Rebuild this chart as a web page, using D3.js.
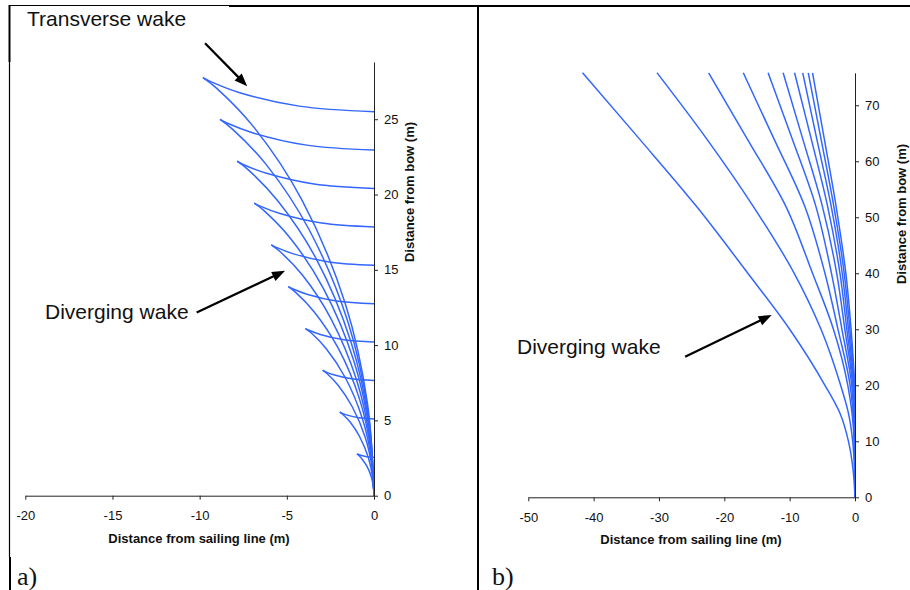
<!DOCTYPE html>
<html>
<head>
<meta charset="utf-8">
<script src="https://cdn.jsdelivr.net/npm/d3@7"></script>
<style>
  html, body { margin: 0; padding: 0; background: #fff; }
  svg { display: block; }
  text { font-family: "Liberation Sans", Arial, Helvetica, sans-serif; fill: #111; }
</style>
</head>
<body>
<svg id="chart" width="910" height="590"></svg>
<script>
// ---------- Panel a: Kelvin wake crests (metres) ----------
const xTicksA = [-20, -15, -10, -5, 0];
const yTicksA = [0, 5, 10, 15, 20, 25];

// transverse branch of each crest: sailing line -> cusp, [lateral, behind bow]
const transverseA = [
  [[0, 2.55], [-0.43, 2.59], [-0.77, 2.68], [-0.93, 2.75], [-0.98, 2.78]],
  [[0, 5.10], [-0.86, 5.17], [-1.54, 5.35], [-1.87, 5.50], [-1.96, 5.55]],
  [[0, 7.65], [-1.29, 7.76], [-2.31, 8.03], [-2.80, 8.24], [-2.94, 8.33]],
  [[0, 10.20], [-1.72, 10.35], [-3.08, 10.71], [-3.73, 10.99], [-3.93, 11.10]],
  [[0, 12.75], [-2.15, 12.93], [-3.85, 13.38], [-4.67, 13.74], [-4.91, 13.88]],
  [[0, 15.30], [-2.58, 15.52], [-4.62, 16.06], [-5.60, 16.49], [-5.89, 16.66]],
  [[0, 17.85], [-3.01, 18.11], [-5.39, 18.74], [-6.53, 19.23], [-6.87, 19.43]],
  [[0, 20.40], [-3.44, 20.70], [-6.16, 21.41], [-7.47, 21.98], [-7.85, 22.21]],
  [[0, 22.95], [-3.86, 23.28], [-6.93, 24.09], [-8.40, 24.73], [-8.83, 24.99]],
  [[0, 25.50], [-4.29, 25.87], [-7.70, 26.76], [-9.33, 27.48], [-9.81, 27.76]]
];

// diverging branch of each crest: cusp -> bow
const divergingA = [
  [[-0.98, 2.78], [-0.90, 2.70], [-0.69, 2.44], [-0.41, 1.96], [-0.16, 1.28], [-0.04, 0.62], [0, 0]],
  [[-1.96, 5.55], [-1.80, 5.41], [-1.37, 4.89], [-0.83, 3.93], [-0.33, 2.55], [-0.08, 1.23], [0, 0]],
  [[-2.94, 8.33], [-2.70, 8.11], [-2.06, 7.33], [-1.24, 5.89], [-0.49, 3.83], [-0.11, 1.85], [0, 0]],
  [[-3.93, 11.10], [-3.61, 10.82], [-2.75, 9.78], [-1.65, 7.85], [-0.66, 5.10], [-0.15, 2.47], [0, 0]],
  [[-4.91, 13.88], [-4.51, 13.52], [-3.44, 12.22], [-2.06, 9.81], [-0.82, 6.38], [-0.19, 3.09], [0, 0]],
  [[-5.89, 16.66], [-5.41, 16.23], [-4.12, 14.67], [-2.48, 11.78], [-0.99, 7.65], [-0.23, 3.70], [0, 0]],
  [[-6.87, 19.43], [-6.31, 18.93], [-4.81, 17.11], [-2.89, 13.74], [-1.15, 8.93], [-0.26, 4.32], [0, 0]],
  [[-7.85, 22.21], [-7.21, 21.64], [-5.50, 19.55], [-3.30, 15.70], [-1.32, 10.21], [-0.30, 4.94], [0, 0]],
  [[-8.83, 24.99], [-8.12, 24.34], [-6.19, 22.00], [-3.72, 17.66], [-1.48, 11.48], [-0.34, 5.55], [0, 0]],
  [[-9.81, 27.76], [-9.02, 27.05], [-6.87, 24.44], [-4.13, 19.63], [-1.65, 12.76], [-0.38, 6.17], [0, 0]]
];

// ---------- Panel b: diverging wake only (metres) ----------
const xTicksB = [-50, -40, -30, -20, -10, 0];
const yTicksB = [0, 10, 20, 30, 40, 50, 60, 70];
const depthsB = [75.8, 64, 52, 40, 30, 20, 15, 10, 5, 0];
// lateral offset of each diverging crest at the depths above
const offsetsB = [
  [-41.7, -33.0, -24.3, -16.4, -10.0, -4.6, -2.3, -1.0, -0.3, 0],
  [-30.3, -22.7, -15.6, -9.3, -5.2, -2.2, -1.0, -0.35, -0.08, 0],
  [-22.4, -16.5, -10.6, -6.5, -3.3, -1.1, -0.45, -0.12, -0.02, 0],
  [-17.1, -12.4, -7.7, -4.6, -2.6, -0.75, -0.3, -0.08, -0.01, 0],
  [-13.3, -9.6, -6.0, -3.6, -2.0, -0.5, -0.2, -0.05, -0.01, 0],
  [-11.0, -8.0, -5.0, -2.8, -1.55, -0.35, -0.14, -0.04, 0, 0],
  [-9.25, -6.7, -4.2, -2.3, -1.25, -0.25, -0.1, -0.03, 0, 0],
  [-8.0, -5.85, -3.65, -1.95, -1.0, -0.18, -0.07, -0.02, 0, 0],
  [-7.15, -5.2, -3.25, -1.65, -0.78, -0.12, -0.05, -0.01, 0, 0],
  [-6.5, -4.7, -2.9, -1.4, -0.6, -0.08, -0.03, -0.01, 0, 0]
];

const axisTitleX = "Distance from sailing line (m)";
const axisTitleY = "Distance from bow (m)";

// ---------- drawing ----------
const svg = d3.select("#chart");
const LINE = "#3366ff";
const AXIS = "#222";

// page frame
const frame = svg.append("g").attr("fill", "none").attr("stroke", "#000");
frame.append("line").attr("x1", 9).attr("x2", 229).attr("y1", 5.5).attr("y2", 5.5).attr("stroke-width", 1);
frame.append("line").attr("x1", 229).attr("x2", 910).attr("y1", 6).attr("y2", 6).attr("stroke-width", 2);
frame.append("line").attr("x1", 9.5).attr("x2", 9.5).attr("y1", 5).attr("y2", 62).attr("stroke-width", 2);
frame.append("line").attr("x1", 9.5).attr("x2", 9.5).attr("y1", 62).attr("y2", 557).attr("stroke-width", 1.2);
frame.append("line").attr("x1", 10).attr("x2", 10).attr("y1", 557).attr("y2", 590).attr("stroke-width", 2);
frame.append("line").attr("x1", 478).attr("x2", 478).attr("y1", 5).attr("y2", 590).attr("stroke-width", 2);

function styleAxis(g) {
  g.select(".domain").attr("stroke", AXIS);
  g.selectAll(".tick line").attr("stroke", AXIS);
  g.selectAll(".tick text").attr("fill", "#1a1a1a").style("font-size", "13px")
    .style("font-family", '"Liberation Sans", Arial, sans-serif');
}

function arrow(g, x1, y1, x2, y2) {
  const dx = x2 - x1, dy = y2 - y1, len = Math.hypot(dx, dy);
  const ux = dx / len, uy = dy / len;
  const headL = 13, headW = 5;
  const bx = x2 - ux * headL, by = y2 - uy * headL;
  g.append("line").attr("x1", x1).attr("y1", y1).attr("x2", bx + ux * 2).attr("y2", by + uy * 2)
    .attr("stroke", "#000").attr("stroke-width", 2.2);
  g.append("path")
    .attr("d", `M${x2},${y2}L${bx - uy * headW},${by + ux * headW}L${bx + uy * headW},${by - ux * headW}Z`)
    .attr("fill", "#000");
}

// ----- panel a -----
const xA = d3.scaleLinear().domain([-20, 0]).range([25.3, 374]);
const yA = d3.scaleLinear().domain([0, 28.8]).range([495.7, 62]);
const gA = svg.append("g");

const lineA = d3.line().x(d => xA(d[0])).y(d => yA(d[1])).curve(d3.curveCatmullRom.alpha(0.5));
gA.append("g").selectAll("path").data(transverseA.concat(divergingA)).join("path")
  .attr("d", lineA).attr("fill", "none").attr("stroke", LINE).attr("stroke-width", 1.5);

gA.append("g").attr("transform", "translate(0,495.7)")
  .call(d3.axisBottom(xA).tickValues(xTicksA).tickFormat(d => String(d)).tickSize(4).tickSizeOuter(0).tickPadding(11))
  .call(styleAxis);
gA.append("g").attr("transform", "translate(374,0)")
  .call(d3.axisRight(yA).tickValues(yTicksA).tickFormat(d => String(d)).tickSize(4).tickSizeOuter(0).tickPadding(6))
  .call(styleAxis);

gA.append("text").attr("x", 199).attr("y", 543).attr("text-anchor", "middle")
  .style("font-size", "13px").style("font-weight", "bold").text(axisTitleX);
gA.append("text").attr("transform", "translate(414,192) rotate(-90)").attr("text-anchor", "middle")
  .style("font-size", "13px").style("font-weight", "bold").text(axisTitleY);

gA.append("text").attr("x", 27).attr("y", 26).style("font-size", "21px").text("Transverse wake");
gA.append("text").attr("x", 45).attr("y", 319).style("font-size", "21px").text("Diverging wake");
arrow(gA, xA(-9.69), yA(30.05), xA(-7.27), yA(27.19));
arrow(gA, xA(-10.17), yA(12.17), xA(-5.10), yA(14.93));

gA.append("text").attr("x", 17).attr("y", 585)
  .style("font-family", '"Liberation Serif", "Times New Roman", serif').style("font-size", "26px").text("a)");

// ----- panel b -----
const xB = d3.scaleLinear().domain([-50, 0]).range([528.3, 855]);
const yB = d3.scaleLinear().domain([0, 75.8]).range([497.3, 72.8]);
const gB = svg.append("g");

const lineB = d3.line().x(d => xB(d[0])).y(d => yB(d[1])).curve(d3.curveMonotoneY);
gB.append("g").selectAll("path")
  .data(offsetsB.map(row => row.map((x, i) => [x, depthsB[i]]).reverse()))
  .join("path")
  .attr("d", lineB).attr("fill", "none").attr("stroke", LINE).attr("stroke-width", 1.5);

gB.append("g").attr("transform", "translate(0,497.3)")
  .call(d3.axisBottom(xB).tickValues(xTicksB).tickFormat(d => String(d)).tickSize(4).tickSizeOuter(0).tickPadding(11))
  .call(styleAxis);
gB.append("g").attr("transform", "translate(855,0)")
  .call(d3.axisRight(yB).tickValues(yTicksB).tickFormat(d => String(d)).tickSize(4).tickSizeOuter(0).tickPadding(6))
  .call(styleAxis);

gB.append("text").attr("x", 691).attr("y", 544).attr("text-anchor", "middle")
  .style("font-size", "13px").style("font-weight", "bold").text(axisTitleX);
gB.append("text").attr("transform", "translate(906,214) rotate(-90)").attr("text-anchor", "middle")
  .style("font-size", "13px").style("font-weight", "bold").text(axisTitleY);

gB.append("text").attr("x", 517).attr("y", 354).style("font-size", "21px").text("Diverging wake");
arrow(gB, xB(-26.0), yB(25.1), xB(-12.75), yB(32.55));

gB.append("text").attr("x", 492).attr("y", 585)
  .style("font-family", '"Liberation Serif", "Times New Roman", serif').style("font-size", "26px").text("b)");
</script>
</body>
</html>
